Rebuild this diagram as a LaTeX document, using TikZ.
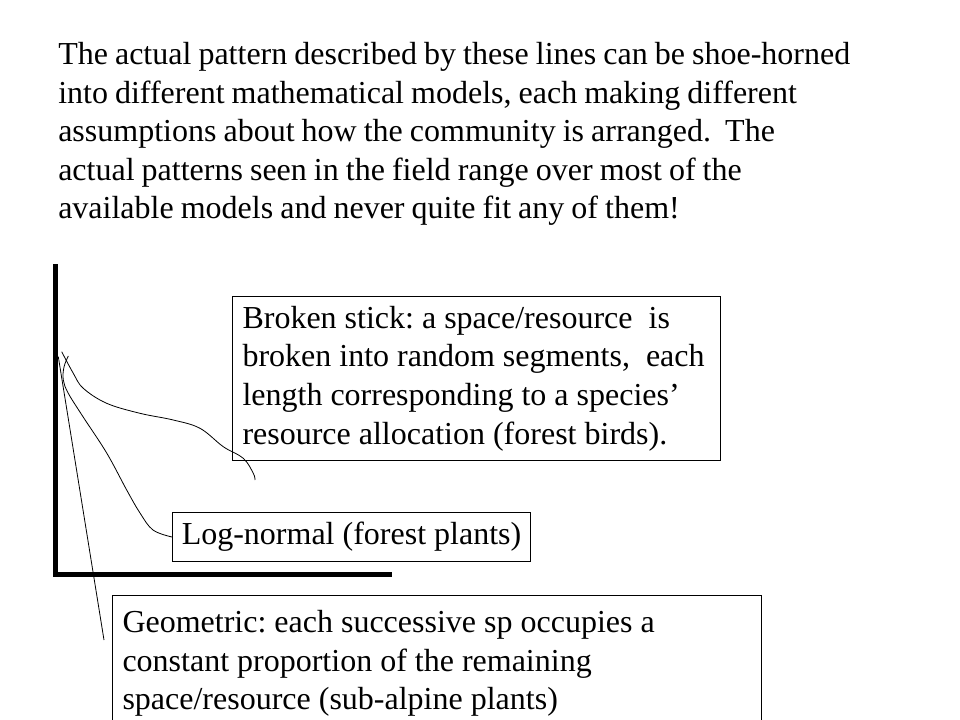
\documentclass[tikz,border=0pt]{standalone}
\usepackage{fontspec}
\setmainfont{Liberation Serif}
\newfontfamily\introfont{Liberation Serif}[WordSpace=0.88]
\usepackage{tikz}
\usetikzlibrary{positioning}
\frenchspacing

\begin{document}
\begin{tikzpicture}[x=0.75bp,y=-0.75bp,
    every node/.style={font=\fontsize{24bp}{28.9bp}\selectfont},
    box/.style={draw,line width=0.75bp,anchor=north west,align=flush left,inner xsep=7.5bp,inner ysep=0pt},
    curve/.style={line width=0.6bp}]
                    \useasboundingbox (0,0) rectangle (960,720);

                    % Heading text
                    \node[anchor=north west,inner sep=0pt,text width=640bp,align=flush left,
                        font=\introfont\fontsize{24bp}{28.9bp}\selectfont] (intro) at (58,42)
                        {The actual pattern described by these lines can be shoe-horned\\
                         into different mathematical models, each making different\\
                         assumptions about how the community is arranged.\ \ The\\
                         actual patterns seen in the field range over most of the\\
                         available models and never quite fit any of them!};

                    % Axes
                    \draw[line width=3.5bp,line join=miter] (55.5,264) -- (55.5,574.5) -- (392,574.5);

                    % Model boxes
                    \node[box,text width=351bp,minimum height=123bp] (broken) at (232,296)
                        {Broken stick: a space/resource \ is\\
                         broken into random segments, \ each\\
                         length corresponding to a species’\\
                         resource allocation (forest birds).};
                    \node[box,minimum width=268.5bp,minimum height=36.75bp,inner xsep=0pt] (lognormal) at (172,512)
                        {Log-normal (forest plants)};
                    \node[box,text width=471.75bp,minimum height=102bp] (geometric) at (112,595)
                        {Geometric: each successive sp occupies a\\
                         constant proportion of the remaining\\
                         space/resource (sub-alpine plants)};

                    % Curve ends
                    \coordinate (geostart) at (58.3,356.7);
                    \coordinate (geoend) at (104,640);
                    \coordinate (logstart) at (68.3,356);
                    \coordinate (brokenstart) at (61.7,351.7);
                    \coordinate (brokenend) at (255,480);

                    % Curves
                    \draw[curve] (geostart) -- (geoend);
                    \draw[curve] plot[smooth,tension=0.6] coordinates {(logstart) (64,367) (63.3,380) (68.3,393.3)
                        (83,416.7) (106.7,453) (126.7,490) (140,513) (153,530) (lognormal.west)};
                    \draw[curve] plot[smooth,tension=0.6] coordinates {(brokenstart) (73.3,373.3) (83.3,388.3)
                        (106.7,403.3) (140,413.3) (173.3,420) (200,428.3) (223.3,446.7) (243.3,458.3)
                        (253.3,473.3) (brokenend)};
                \end{tikzpicture}
\end{document}
